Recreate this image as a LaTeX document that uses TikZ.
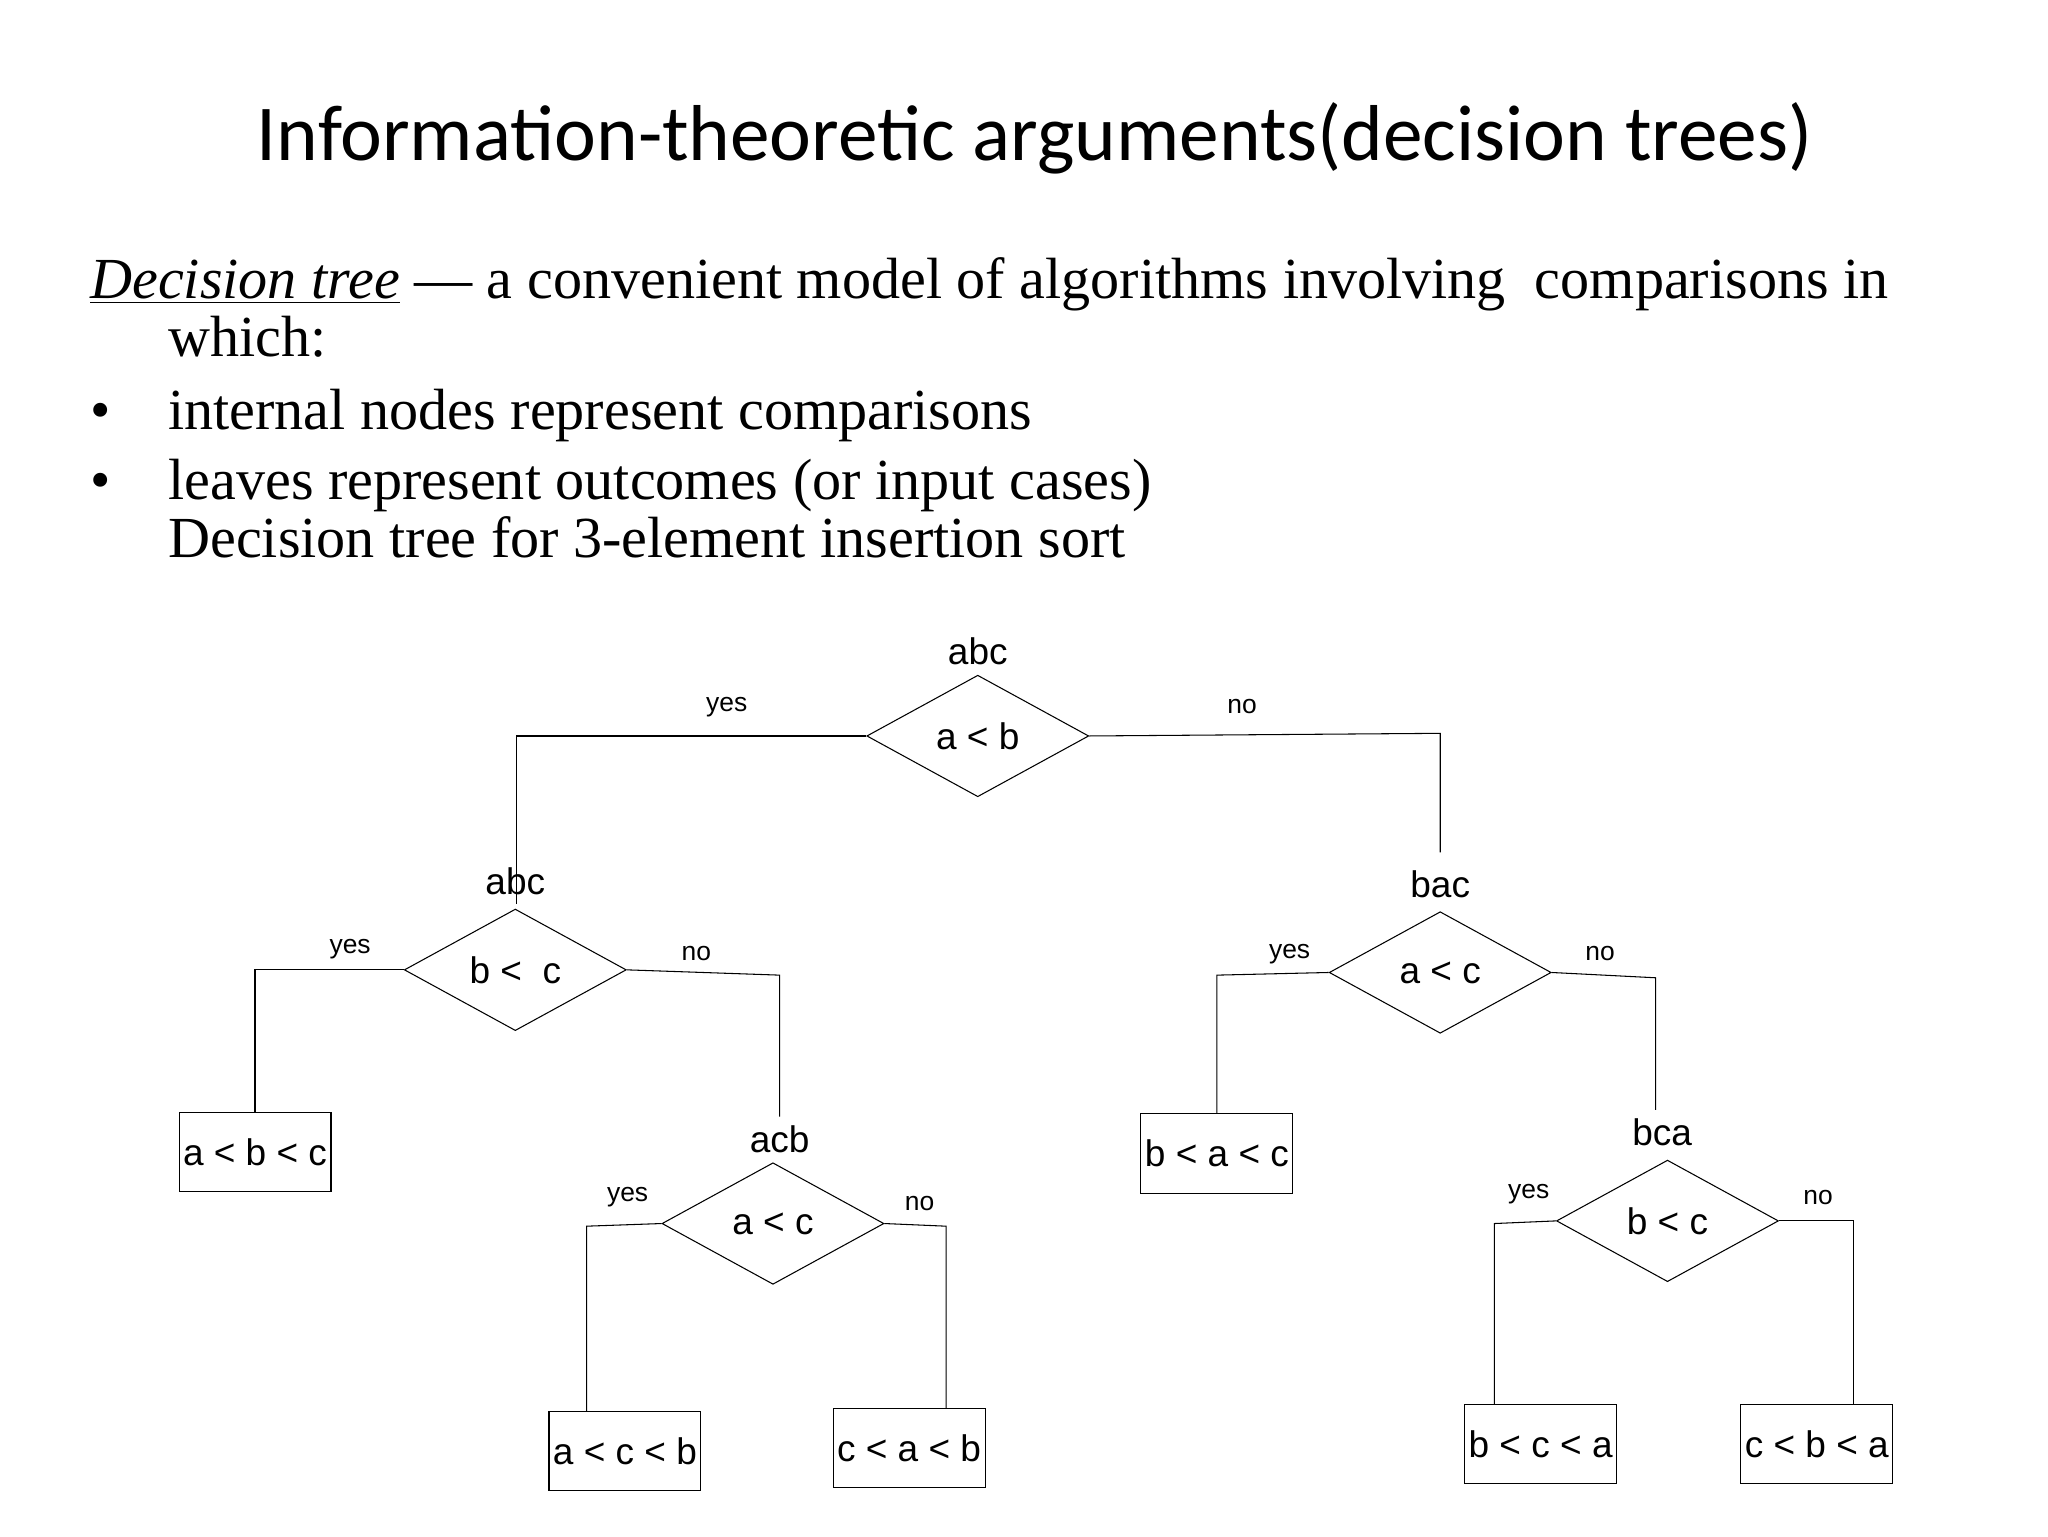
\documentclass[tikz,border=0pt]{standalone}
\usepackage{fontspec}
\setmainfont{Liberation Serif}
\newfontfamily\titlefont{Carlito}
\newfontfamily\arialf{Liberation Sans}
\usetikzlibrary{shapes.geometric}
\begin{document}
\begin{tikzpicture}[x=0.5pt,y=-0.5pt,
  dia/.style={diamond,draw,inner sep=0pt,minimum width=84pt,minimum height=46pt,font=\arialf\fontsize{14}{16}\selectfont},
  leaf/.style={rectangle,draw,inner sep=0pt,minimum width=57.5pt,minimum height=30pt,font=\arialf\fontsize{14}{16}\selectfont},
  lab/.style={font=\arialf\fontsize{14}{16}\selectfont},
  yn/.style={font=\arialf\fontsize{10}{12}\selectfont},
  body/.style={anchor=base west,font=\fontsize{22}{24}\selectfont,inner sep=0pt}]
\useasboundingbox (0,0) rectangle (1550,1162.5);
\node[font=\titlefont\fontsize{30}{34}\selectfont] (title) at (783,105) {Information-theoretic arguments(decision trees)};
\node[body] (l1) at (68,226) {\underline{\textit{Decision tree}} --- a convenient model of algorithms involving\ \ comparisons in};
\node[body] (l2) at (127,270) {which:};
\node[body] (b1) at (68,325) {\textbullet};
\node[body] (l3) at (127,325) {internal nodes represent comparisons};
\node[body] (b2) at (68,378) {\textbullet};
\node[body] (l4) at (127,378) {leaves represent outcomes (or input cases)};
\node[body] (l5) at (127,422) {Decision tree for 3-element insertion sort};

\node[dia] (r) at (740,557) {a < b};
\node[lab] (rl) at (740,493) {abc};
\node[dia] (L1) at (390,734) {b <\ \ c};
\node[lab] (L1l) at (390,667) {abc};
\node[dia] (R1) at (1090,736) {a < c};
\node[lab] (R1l) at (1090,669) {bac};
\node[dia] (L2) at (585,926) {a < c};
\node[lab] (L2l) at (590,862) {acb};
\node[dia] (R2) at (1262,924) {b < c};
\node[lab] (R2l) at (1258,857) {bca};

\node[leaf] (A) at (193,872) {a < b < c};
\node[leaf] (B) at (473,1098) {a < c < b};
\node[leaf] (C) at (688,1096) {c < a < b};
\node[leaf] (D) at (921,873) {b < a < c};
\node[leaf] (E) at (1166,1093) {b < c < a};
\node[leaf] (F) at (1375,1093) {c < b < a};

\draw (r.west) -- (391,557) -- (391,684);
\draw (r.east) -- (1090,555) -- (1090,645);
\draw (L1.west) -- (193,734) -- (A.north);
\draw (L1.east) -- (590,738) -- (590,845);
\draw (L2.west) -- (444,928) -- (444,1068);
\draw (L2.east) -- (716,928) -- (716,1066);
\draw (R1.west) -- (921,738) -- (D.north);
\draw (R1.east) -- (1253,740) -- (1253,840);
\draw (R2.west) -- (1131,926) -- (1131,1063);
\draw (R2.east) -- (1403,924) -- (1403,1063);

\node[yn] (y0) at (550,535) {yes};
\node[yn] (n0) at (940,535) {no};
\node[yn] (y1) at (265,718) {yes};
\node[yn] (n1) at (527,722) {no};
\node[yn] (y2) at (976,722) {yes};
\node[yn] (n2) at (1211,722) {no};
\node[yn] (y3) at (475,906) {yes};
\node[yn] (n3) at (696,911) {no};
\node[yn] (y4) at (1157,904) {yes};
\node[yn] (n4) at (1376,906) {no};
\end{tikzpicture}
\end{document}
